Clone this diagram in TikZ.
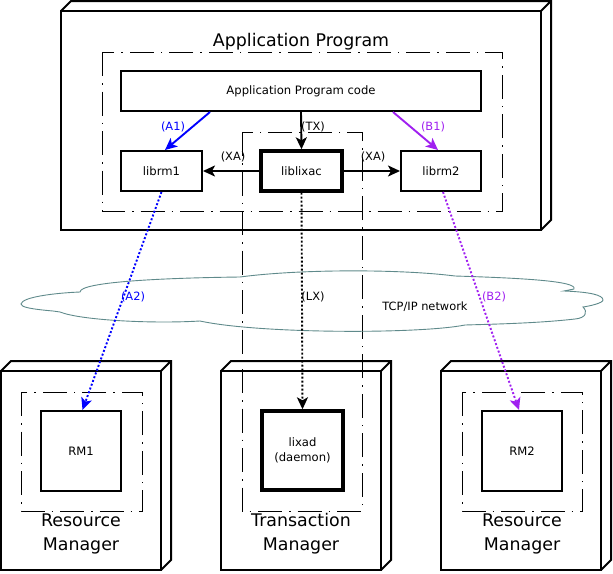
\documentclass[tikz,border=0pt]{standalone}
\usepackage{fontspec}
\setmainfont{DejaVu Sans}
\usetikzlibrary{arrows.meta}
\definecolor{cloudc}{HTML}{5F8A8B}
\definecolor{pur}{HTML}{A020F0}
\definecolor{blu}{HTML}{0000FF}
\begin{document}
\begin{tikzpicture}[x=1pt,y=-1pt,
 box/.style={draw, line width=2pt, inner sep=0pt, font=\fontsize{11.6}{15}\selectfont, align=center},
 thickbox/.style={box, line width=3.4pt},
 frame/.style={line width=2pt, line join=miter},
 dd/.style={line width=0.9pt, dash pattern=on 24pt off 7pt on 1.5pt off 7pt},
 arr/.style={line width=1.9pt, -{Stealth[length=12pt,width=11pt,inset=3pt]}},
 dotarr/.style={arr, dash pattern=on 2pt off 2pt},
 lbl/.style={font=\fontsize{11.4}{13}\selectfont, inner sep=0pt},
 big/.style={font=\fontsize{17.4}{24}\selectfont, align=center, inner sep=0pt},
]
\useasboundingbox (0,0) rectangle (613,573);

% 3D frames
\draw[frame] (61,11) rectangle (541,230);
\draw[frame] (61,11) -- (71,1) -- (551,1) -- (551,220) -- (541,230) (551,1) -- (541,11);
\foreach \x in {1,221,441}{
  \draw[frame] (\x,371) rectangle (\x+160,570);
  \draw[frame] (\x,371) -- (\x+10,361) -- (\x+170,361) -- (\x+170,560) -- (\x+160,570) (\x+170,361) -- (\x+160,371);
}

% dash-dot groupings
\draw[dd] (102,52) rectangle (502,211);
\draw[dd] (242,132) rectangle (362,511);
\draw[dd] (21,392) rectangle (142,511);
\draw[dd] (462,392) rectangle (582,511);

% cloud
\draw[cloudc, line width=0.9pt] (21,304)
  .. controls (22,297) and (55,293) .. (80,292)
  .. controls (80,282) and (160,278) .. (240,277)
  .. controls (300,269) and (400,269) .. (455,276)
  .. controls (520,278) and (578,281) .. (574,289)
  -- (564,291)
  .. controls (590,292) and (603,295) .. (603,300)
  .. controls (603,303) and (590,306) .. (583,307)
  .. controls (588,312) and (586,318) .. (575,319)
  .. controls (540,323) and (500,324) .. (465,325)
  .. controls (420,334) and (260,334) .. (200,321)
  .. controls (150,324) and (80,320) .. (60,312)
  -- (53,311)
  .. controls (30,309) and (21,307) .. (21,304) -- cycle;
\node[lbl] (tcp) at (425,307) {TCP/IP network};

% titles
\node[big] (aptitle) at (301,42) {Application Program};
\node[big] (rm1t) at (81,534) {Resource\\Manager};
\node[big] (tmt) at (301,534) {Transaction\\Manager};
\node[big] (rm2t) at (522,534) {Resource\\Manager};

% boxes
\node[box, minimum width=360pt, minimum height=40pt] (code) at (301,91) {Application Program code};
\node[box, minimum width=81pt, minimum height=40pt] (librm1) at (161.5,171) {librm1};
\node[thickbox, minimum width=81pt, minimum height=40pt] (liblixac) at (301.5,171) {liblixac};
\node[box, minimum width=80pt, minimum height=40pt] (librm2) at (441,171) {librm2};
\node[box, minimum width=80pt, minimum height=80pt] (rm1) at (81,451) {RM1};
\node[thickbox, minimum width=81pt, minimum height=79pt] (lixad) at (302.5,450.5) {lixad\\(daemon)};
\node[box, minimum width=80pt, minimum height=80pt] (rm2) at (522,451) {RM2};

% connectors
\draw[arr, blu] ([xshift=90pt]code.south west) -- ([xshift=3.5pt]librm1.north);
\draw[arr] (code.south) -- (liblixac.north);
\draw[arr, pur] ([xshift=-89pt]code.south east) -- ([xshift=-3pt]librm2.north);
\draw[arr] (liblixac.west) -- (librm1.east);
\draw[arr] (liblixac.east) -- (librm2.west);
\draw[dotarr, blu] (librm1.south) -- ([xshift=1.5pt]rm1.north);
\draw[dotarr] (liblixac.south) -- (lixad.north);
\draw[dotarr, pur] ([xshift=2pt]librm2.south) -- ([xshift=-3pt]rm2.north);

% connector labels
\node[lbl, blu] (la1) at (173,127) {(A1)};
\node[lbl] (ltx) at (313,127) {(TX)};
\node[lbl, pur] (lb1) at (433,127) {(B1)};
\node[lbl] (lxa1) at (233,157) {(XA)};
\node[lbl] (lxa2) at (373,157) {(XA)};
\node[lbl, blu] (la2) at (133,297) {(A2)};
\node[lbl] (llx) at (313,297) {(LX)};
\node[lbl, pur] (lb2) at (494,297) {(B2)};
\end{tikzpicture}
\end{document}
